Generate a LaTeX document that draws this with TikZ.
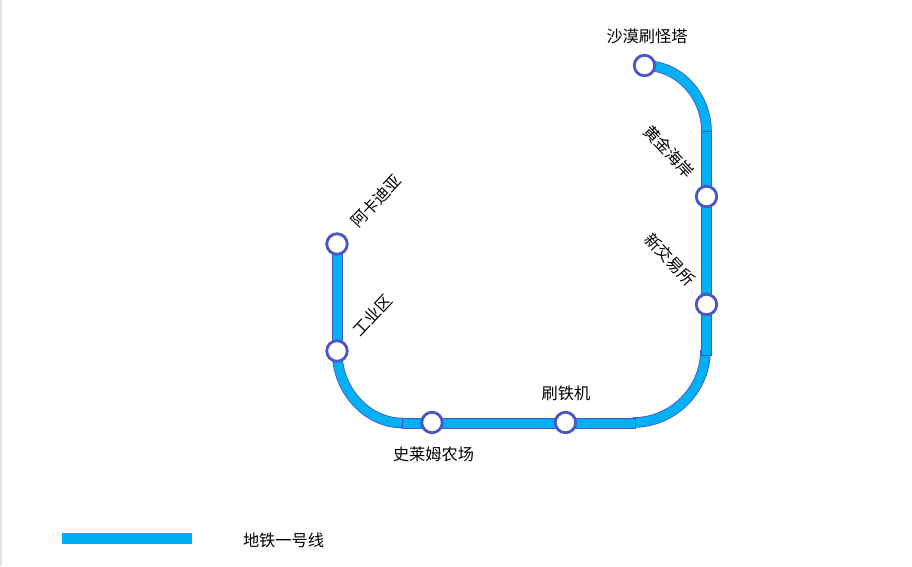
\documentclass[tikz,border=0pt]{standalone}
\usepackage{fontspec}
\setmainfont{Noto Sans CJK SC}
\usetikzlibrary{backgrounds}
\definecolor{tubeblue}{HTML}{00B0F5}
\definecolor{tubeedge}{HTML}{4A55C8}
\definecolor{pagerule}{HTML}{E2E2E8}
\tikzset{
  station/.style={circle, draw=tubeedge, fill=white, line width=2.8pt, inner sep=0pt, outer sep=0pt, minimum size=20.5pt},
  tube/.style={draw=tubeblue, line width=9pt, preaction={draw=tubeedge, line width=11pt, shorten <=-1pt, shorten >=-1pt}},
  curvetube/.style={draw=tubeblue, line width=9pt, preaction={draw=tubeedge, line width=10.6pt}},
  lbl/.style={font=\fontsize{16.2pt}{18pt}\selectfont, text=black, inner sep=0pt}
}

\begin{document}
\begin{tikzpicture}[x=1pt,y=-1pt]
  \useasboundingbox (0,0) rectangle (912,566);
  \fill [pagerule] (0,0) rectangle (2,566);

  \node [station] (shamo)   at (644.5,65.5)  {};
  \node [station] (huangjin) at (706.5,196.5)  {};
  \node [station] (xinjiao) at (706.5,304.5)   {};
  \node [station] (shuatie) at (565.5,422.5) {};
  \node [station] (shilai)  at (432,422.5)   {};
  \node [station] (gongye)  at (337,351)   {};
  \node [station] (akadi)   at (337,244)   {};

  \coordinate (topbend)   at (706.5,132);
  \coordinate (rightbend) at (706.5,355);
  \coordinate (rightarc)  at (705.5,350);
  \coordinate (lowbend)   at (635,423);
  \coordinate (lowarc)    at (633,422.5);
  \coordinate (leftbend)  at (402.5,423);
  \coordinate (leftstart) at (337.5,244);
  \coordinate (leftend)   at (337.5,351);

  \begin{scope}[on background layer]
    \draw [curvetube] (shamo.center) .. controls +(34,0) and +(0,-37) .. (topbend);
    \draw [curvetube] (rightarc) .. controls +(0,40) and +(40,0) .. (lowarc);
    \draw [curvetube] (gongye.center) .. controls +(0,39) and +(-36,0) .. (leftbend);
    \draw [tube]    (topbend) -- (rightbend);
    \draw [tube]    (leftbend) -- (lowbend);
    \draw [tube]    (leftstart) -- (leftend);
  \end{scope}

  \node [lbl] (shamolbl)    at (647,36.5)  {沙漠刷怪塔};
  \node [lbl, rotate=-47] (huangjinlbl) at (669,151.5) {黄金海岸};
  \node [lbl, rotate=-47] (xinjiaolbl)  at (670,259.5) {新交易所};
  \node [lbl] (shuatielbl)  at (566,393.5) {刷铁机};
  \node [lbl] (shilailbl)   at (433.5,454.5) {史莱姆农场};
  \node [lbl, rotate=47]  (gongyelbl)   at (372,315) {工业区};
  \node [lbl, rotate=47]  (akadilbl)    at (376,201) {阿卡迪亚};

  \fill [tubeblue] (62,533) rectangle (192,544);
  \node [lbl] (legendlbl) at (283.5,540) {地铁一号线};
\end{tikzpicture}
\end{document}
